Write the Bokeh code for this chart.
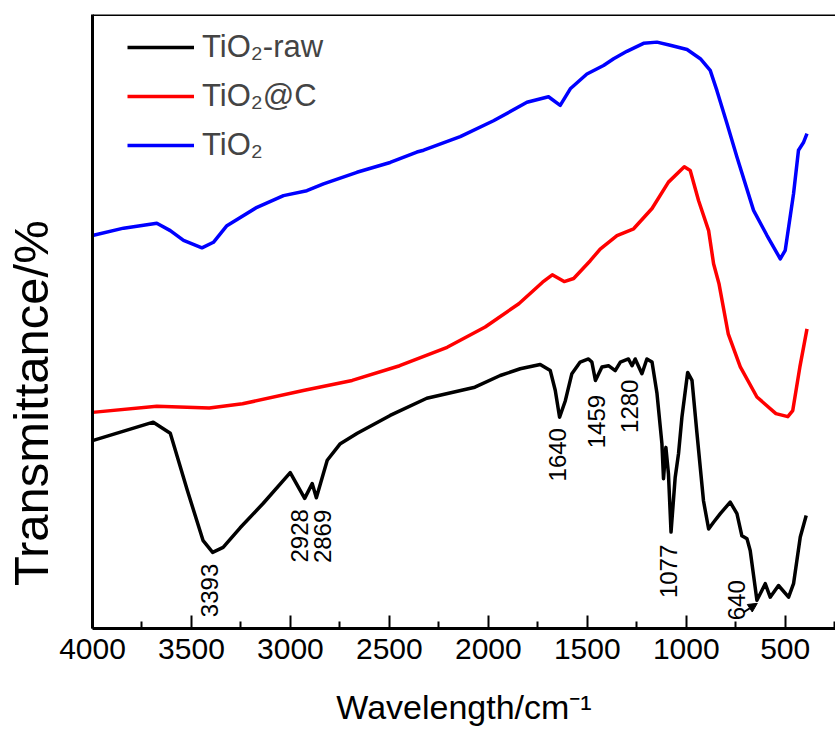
from math import pi
from bokeh.plotting import figure
from bokeh.models import (Range1d, FixedTicker, Legend, LegendItem, Span,
                          Arrow, NormalHead, LabelSet, ColumnDataSource)
from bokeh.core.properties import value
from bokeh.embed import file_html
from bokeh.resources import INLINE

# ---------------- data ----------------
raw_wn = [4000, 3693, 3607, 3521, 3441, 3393, 3340, 3254, 3137, 3001, 2928, 2890, 2869,
          2814, 2748, 2662, 2496, 2311, 2068, 1940, 1839, 1738, 1687, 1662, 1640, 1611,
          1578, 1536, 1494, 1477, 1459, 1426, 1393, 1359, 1333, 1292, 1274, 1258, 1224,
          1199, 1173, 1148, 1123, 1115, 1103, 1090, 1077, 1056, 1039, 1022, 993, 971,
          946, 913, 887, 862, 828, 778, 744, 719, 693, 677, 643, 618, 601, 576, 534,
          483, 458, 424, 394]
raw_t = [30.6, 33.6, 31.8, 22.5, 14.3, 12.4, 13.2, 16.4, 20.4, 25.4, 21.2, 23.6, 21.3,
         27.4, 30.1, 31.8, 34.7, 37.5, 39.3, 41.2, 42.3, 43.0, 42.0, 38.8, 34.4, 37.1,
         41.5, 43.4, 43.9, 43.4, 40.4, 42.6, 42.8, 42.0, 43.4, 43.9, 42.8, 43.9, 41.5,
         43.9, 43.4, 38.3, 30.1, 24.4, 29.5, 25.2, 15.7, 24.6, 28.5, 34.4, 41.7, 40.4,
         31.8, 20.8, 16.2, 17.3, 18.7, 20.6, 18.7, 15.1, 14.6, 12.7, 4.6, 6.2, 7.3, 5.1,
         7.0, 5.1, 7.3, 14.9, 18.4]

tc_wn = [4000, 3675, 3410, 3242, 2929, 2688, 2448, 2208, 2016, 1846, 1726, 1677, 1617,
         1569, 1485, 1435, 1350, 1266, 1173, 1090, 1010, 980, 938, 887, 862, 835, 788,
         727, 643, 547, 487, 462, 426, 390]
tc_t = [35.2, 36.2, 35.9, 36.6, 38.8, 40.4, 42.8, 45.8, 49.1, 52.9, 56.4, 57.6, 56.5,
        57.0, 59.9, 61.8, 64.0, 65.1, 68.4, 72.7, 75.2, 74.6, 69.7, 64.8, 59.4, 56.2,
        48.0, 42.6, 37.7, 35.0, 34.5, 35.5, 42.6, 48.8]

ti_wn = [4000, 3843, 3675, 3607, 3540, 3447, 3389, 3321, 3169, 3035, 2917, 2833, 2664,
         2496, 2361, 2327, 2142, 1974, 1805, 1696, 1637, 1586, 1502, 1418, 1367, 1300,
         1216, 1148, 1081, 996, 929, 879, 845, 794, 744, 660, 592, 525, 500, 458, 433,
         407, 390]
ti_t = [64.0, 65.2, 66.0, 64.8, 63.2, 62.0, 62.9, 65.6, 68.6, 70.5, 71.3, 72.4, 74.3,
        75.9, 77.6, 77.9, 80.1, 82.7, 85.7, 86.6, 85.2, 87.9, 90.3, 91.7, 92.8, 94.0,
        95.3, 95.5, 95.0, 94.3, 92.8, 90.9, 87.6, 82.2, 76.8, 68.1, 64.0, 60.2, 61.6,
        70.8, 77.9, 79.2, 80.6]

series_names = ["TiO\u2082-raw", "TiO\u2082@C", "TiO\u2082"]
series_colors = ["#000000", "#ff0000", "#0000ff"]

peak_text = ["3393", "2928", "2869", "1640", "1459", "1280", "1077", "640"]
peak_x = [3408, 2956, 2839, 1649, 1455, 1288, 1088, 747]
peak_y = [6.2, 15.1, 15.0, 28.3, 33.7, 36.2, 9.3, 4.6]

x_ticks = [4000, 3500, 3000, 2500, 2000, 1500, 1000, 500]
x_minor = [3750, 3250, 2750, 2250, 1750, 1250, 750, 250]

x_title = "Wavelength/cm\u207b\u00b9"
y_title = "Transmittance/%"

FONT = "Liberation Sans"

# ---------------- figure ----------------
p = figure(width=835, height=737, output_backend="svg", toolbar_location=None,
           x_range=Range1d(4000, 246), y_range=Range1d(0, 100),
           min_border_left=92, min_border_right=0, min_border_top=14,
           min_border_bottom=109)
p.outline_line_color = None
p.grid.visible = False

xa = p.xaxis[0]
xa.ticker = FixedTicker(ticks=x_ticks, minor_ticks=x_minor)
xa.axis_line_width = 3
xa.major_tick_in = 13
xa.major_tick_out = 0
xa.minor_tick_in = 7
xa.minor_tick_out = 0
xa.major_tick_line_width = 2
xa.minor_tick_line_width = 2
xa.major_label_text_font = FONT
xa.major_label_text_font_size = "30px"
xa.major_label_text_color = "black"
xa.major_label_standoff = 10
xa.axis_label = x_title
xa.axis_label_text_font = FONT
xa.axis_label_text_font_size = "34px"
xa.axis_label_text_font_style = "normal"
xa.axis_label_text_color = "black"
xa.axis_label_standoff = 26

ya = p.yaxis[0]
ya.ticker = FixedTicker(ticks=[])
ya.axis_line_width = 3
ya.major_tick_line_color = None
ya.minor_tick_line_color = None
ya.major_label_text_font_size = "0px"
ya.major_label_standoff = 0
# trailing no-break spaces move the (frame-centred) label down to where the reference has it
ya.axis_label = y_title + "\u00a0" * 12
ya.axis_label_text_font = FONT
ya.axis_label_text_font_size = "49px"
ya.axis_label_text_font_style = "normal"
ya.axis_label_text_color = "black"
ya.axis_label_standoff = 35

p.add_layout(Span(location=100, dimension="width", line_color="black", line_width=3))

rs = []
for wn, t, c in zip([raw_wn, tc_wn, ti_wn], [raw_t, tc_t, ti_t], series_colors):
    rs.append(p.line(wn, t, line_color=c, line_width=3.5, line_join="round"))

legend = Legend(items=[LegendItem(label=n, renderers=[r]) for n, r in zip(series_names, rs)],
                location=(35, 463), padding=0, margin=0, spacing=9,
                glyph_width=67, glyph_height=40, label_height=40, label_standoff=8,
                label_text_font=FONT, label_text_font_size="31px",
                border_line_color=None, background_fill_alpha=0)
p.add_layout(legend)

src = ColumnDataSource(dict(x=peak_x, y=peak_y, text=peak_text))
p.add_layout(LabelSet(x="x", y="y", text="text", source=src, angle=pi / 2,
                      text_align="center", text_baseline="middle",
                      text_font=value(FONT), text_font_size=value("24px"),
                      text_color="black"))

p.add_layout(Arrow(end=NormalHead(size=9, fill_color="black", line_color="black"),
                   x_start=712, y_start=2.6, x_end=641, y_end=4.1,
                   line_width=2, line_color="black"))

open("out.html", "w").write(file_html(p, INLINE))
